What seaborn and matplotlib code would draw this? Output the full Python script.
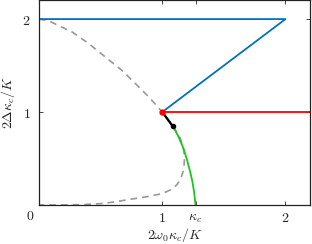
import numpy as np
import pandas as pd
import matplotlib
matplotlib.use('Agg')
import matplotlib.pyplot as plt
import seaborn as sns

# values
kappa_c = 1.27

# gray dashed boundary (upper branch -> turning point -> lower branch)
dash_x = [0.0, 0.08, 0.27, 0.40, 0.54, 0.68, 0.81, 0.90, 1.00, 1.06, 1.11, 1.145, 1.165, 1.177, 1.18,
          1.178, 1.172, 1.16, 1.145, 1.12, 1.09, 1.04, 0.984, 0.88, 0.74, 0.61, 0.50, 0.34, 0.15, 0.0]
dash_y = [2.0, 1.98, 1.86, 1.74, 1.59, 1.44, 1.27, 1.15, 1.0, 0.90, 0.80, 0.72, 0.645, 0.57, 0.50,
          0.44, 0.376, 0.32, 0.269, 0.22, 0.18, 0.145, 0.118, 0.09, 0.061, 0.032, 0.014, 0.003, 0.0, 0.0]

# blue lines
blue_x = [0.0, 2.0, 1.0]
blue_y = [2.0, 2.0, 1.0]

# red line
red_x = [1.0, 2.2]
red_y = [1.0, 1.0]

# green curve
green_x = [1.0, 1.04, 1.09, 1.13, 1.172, 1.20, 1.226, 1.245, 1.258, 1.266, 1.27]
green_y = [1.0, 0.93, 0.84, 0.74, 0.61, 0.49, 0.36, 0.25, 0.143, 0.05, 0.0]

# black segment
black_x = [1.0, 1.02, 1.05, 1.086]
black_y = [1.0, 0.965, 0.91, 0.845]

sns.set_style('ticks')
plt.rcParams['mathtext.fontset'] = 'cm'
plt.rcParams['font.family'] = ['DejaVu Serif']

fig = plt.figure(figsize=(3.12, 2.44), dpi=100)
ax = fig.add_axes([0.125, 0.16, 0.869, 0.838])

sns.lineplot(x=dash_x, y=dash_y, sort=False, estimator=None, ax=ax, color='#999999',
             linestyle=(0, (4, 3)), linewidth=1.2)
sns.lineplot(x=blue_x, y=blue_y, sort=False, estimator=None, ax=ax, color='#0072BD', linewidth=1.3)
sns.lineplot(x=red_x, y=red_y, sort=False, estimator=None, ax=ax, color='#ff0000', linewidth=1.3)
sns.lineplot(x=green_x, y=green_y, sort=False, estimator=None, ax=ax, color='#1ec31e', linewidth=1.3)
sns.lineplot(x=black_x, y=black_y, sort=False, estimator=None, ax=ax, color='black', linewidth=1.6)
ax.plot(black_x[-1], black_y[-1], 'o', color='black', markersize=3)
ax.plot(1.0, 1.0, 'o', color='#ff0000', markersize=3.5)

ax.set_xlim(0, 2.2)
ax.set_ylim(0, 2.2)
ax.set_xticks([1, kappa_c, 2])
ax.set_xticklabels([r'$1$', r'$\kappa_c$', r'$2$'])
ax.set_yticks([1, 2])
ax.set_yticklabels([r'$1$', r'$2$'])
ax.tick_params(direction='in', top=True, right=True, length=3, width=0.6, labelsize=10, pad=4)
ax.tick_params(axis='y', pad=6)
ax.text(-0.07, -0.12, r'$0$', fontsize=10, ha='center', va='center', clip_on=False)
ax.set_xlabel(r'$2\omega_0\kappa_c/K$', fontsize=10, labelpad=1)
ax.set_ylabel(r'$2\Delta\kappa_c/K$', fontsize=10, labelpad=4)
for s in ax.spines.values():
    s.set_linewidth(0.9)
    s.set_color('#222222')

plt.savefig('out.png', dpi=100)
